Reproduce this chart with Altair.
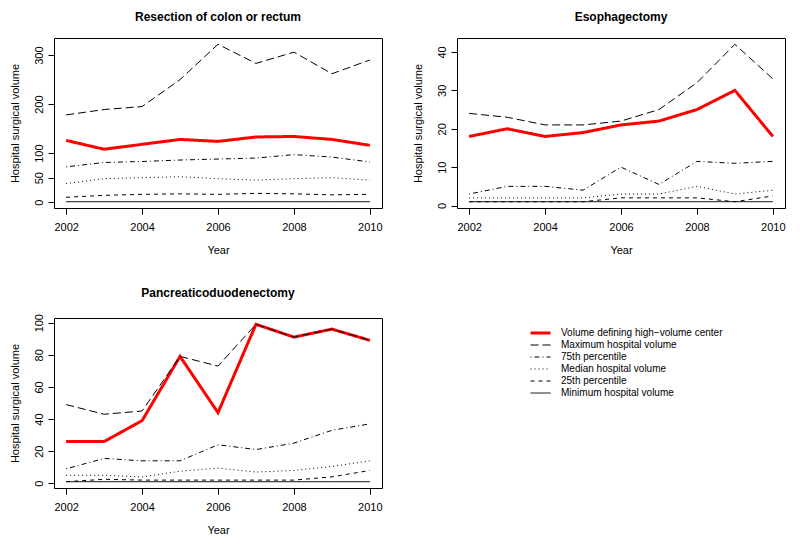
import altair as alt
import pandas as pd

years = [2002, 2003, 2004, 2005, 2006, 2007, 2008, 2009, 2010]
series_names = [
    "Volume defining high\u2212volume center",
    "Maximum hospital volume",
    "75th percentile",
    "Median hospital volume",
    "25th percentile",
    "Minimum hospital volume",
]
panel_titles = ["Resection of colon or rectum", "Esophagectomy", "Pancreaticoduodenectomy"]

colon_high = [126, 108, 118, 128, 124, 133, 134, 128, 116]
colon_max = [178, 189, 195, 250, 322, 283, 306, 262, 290]
colon_p75 = [72, 81, 83, 86, 88, 90, 97, 92, 82]
colon_median = [38, 48, 50, 52, 48, 45, 48, 50, 45]
colon_p25 = [10, 14, 16, 17, 16, 18, 17, 15, 16]
colon_min = [1, 1, 1, 1, 1, 1, 1, 1, 1]

eso_high = [18, 20, 18, 19, 21, 22, 25, 30, 18]
eso_max = [24, 23, 21, 21, 22, 25, 32, 42, 33]
eso_p75 = [3, 5, 5, 4, 10, 5.5, 11.5, 11, 11.5]
eso_median = [2, 2, 2, 2, 3, 3, 5, 3, 4]
eso_p25 = [1, 1, 1, 1, 2, 2, 2, 1, 2.5]
eso_min = [1, 1, 1, 1, 1, 1, 1, 1, 1]

pan_high = [26, 26, 39, 79, 44, 99, 91, 96, 89]
pan_max = [49, 43, 45, 79, 73, 99, 91, 96, 89]
pan_p75 = [9, 15.5, 14, 14, 24, 21, 25, 33, 37]
pan_median = [5, 5, 4, 7.5, 9.5, 7, 8, 10.5, 14]
pan_p25 = [1, 2.5, 2, 2, 2, 2, 2, 4, 8]
pan_min = [1, 1, 1, 1, 1, 1, 1, 1, 1]

y_ticks = {
    panel_titles[0]: [0, 50, 100, 200, 300],
    panel_titles[1]: [0, 10, 20, 30, 40],
    panel_titles[2]: [0, 20, 40, 60, 80, 100],
}
panel_series = {
    panel_titles[0]: [colon_high, colon_max, colon_p75, colon_median, colon_p25, colon_min],
    panel_titles[1]: [eso_high, eso_max, eso_p75, eso_median, eso_p25, eso_min],
    panel_titles[2]: [pan_high, pan_max, pan_p75, pan_median, pan_p25, pan_min],
}

colors = ["#ff0000", "#000000", "#000000", "#000000", "#000000", "#000000"]
widths = [3, 1, 1, 1, 1, 1]
dashes = [[1, 0], [8, 4], [1, 3, 5, 3], [1, 3], [4, 4], [1, 0]]


def make_panel(title):
    rows = []
    for name, vals in zip(series_names, panel_series[title]):
        for yr, v in zip(years, vals):
            rows.append({"year": yr, "value": v, "series": name})
    df = pd.DataFrame(rows)
    allv = [v for s in panel_series[title] for v in s]
    lo, hi = min(allv), max(allv)
    pad = 0.04 * (hi - lo)
    leg = alt.Legend(
        title=None,
        orient="none",
        legendX=475,
        legendY=289,
        symbolType="stroke",
        symbolSize=400,
        labelFontSize=10,
        labelFont="Liberation Sans",
        labelLimit=400,
        rowPadding=0,
        clipHeight=12,
        labelOffset=9,
    )
    return (
        alt.Chart(df)
        .mark_line(strokeCap="butt")
        .encode(
            x=alt.X(
                "year:Q",
                title="Year",
                scale=alt.Scale(domain=[2002 - 0.32, 2010 + 0.32], nice=False, zero=False),
                axis=alt.Axis(values=[2002, 2004, 2006, 2008, 2010], format="d",
                              labelPadding=7, titlePadding=12),
            ),
            y=alt.Y(
                "value:Q",
                title="Hospital surgical volume",
                scale=alt.Scale(domain=[lo - pad, hi + pad], nice=False, zero=False),
                axis=alt.Axis(
                    values=y_ticks[title],
                    labelAngle=270,
                    labelAlign="center",
                    labelBaseline="bottom",
                    titlePadding=13,
                ),
            ),
            color=alt.Color("series:N", scale=alt.Scale(range=colors, domain=series_names), legend=leg),
            strokeWidth=alt.StrokeWidth("series:N", scale=alt.Scale(type="ordinal", range=widths, domain=series_names), legend=leg),
            strokeDash=alt.StrokeDash("series:N", scale=alt.Scale(range=dashes, domain=series_names), legend=leg),
            order=alt.Order("series:N"),
        )
        .properties(width=328, height=170, title=title)
    )


p1 = make_panel(panel_titles[0])
p2 = make_panel(panel_titles[1])
p3 = make_panel(panel_titles[2])

chart = (
    alt.vconcat(
        alt.hconcat(p1, p2, spacing=28),
        alt.hconcat(p3, spacing=28),
        spacing=30,
    )
    .properties(padding={"left": 0, "top": 2, "right": 0, "bottom": 0})
    .configure(font="Liberation Sans")
    .configure_view(stroke="#000000", strokeWidth=1)
    .configure_axis(
        grid=False,
        domain=False,
        tickColor="#000000",
        tickSize=6,
        labelFontSize=11,
        labelColor="#000000",
        labelFont="Liberation Sans",
        labelPadding=4,
        titleFontSize=11,
        titleFontWeight="normal",
        titleColor="#000000",
        titleFont="Liberation Sans",
    )
    .configure_title(fontSize=12, fontWeight="bold", font="Liberation Sans", anchor="middle", offset=14, color="#000000")
)

chart.save("out.html", embed_options={"renderer": "svg", "actions": False})
